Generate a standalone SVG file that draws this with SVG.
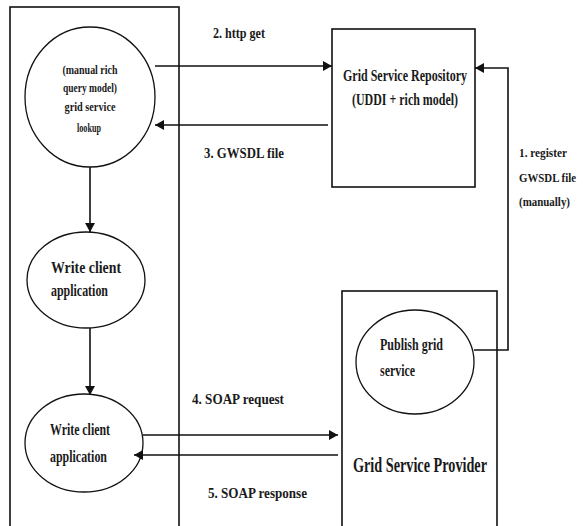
<svg xmlns="http://www.w3.org/2000/svg" width="588" height="526" viewBox="0 0 588 526">
<style>
.box{fill:none;stroke:#111;stroke-width:1.6}
.node{fill:#fff;stroke:#111;stroke-width:1.3}
.edge{fill:none;stroke:#111;stroke-width:1.6}
text{font-family:"Liberation Serif","Times New Roman",serif;font-weight:bold;fill:#1a1a1a}
.s{font-size:13px}
.m{font-size:15px}
.r{font-size:13px}
.n{font-size:17px}
.l{font-size:16px}
.xl{font-size:22px}
</style>
<defs>
<marker id="ah" markerWidth="10" markerHeight="10" refX="9" refY="5" orient="auto" markerUnits="userSpaceOnUse">
<path d="M0,0 L9,5 L0,10 Z" fill="#111"/>
</marker>
</defs>
<rect width="588" height="526" fill="#fff"/>
<g id="client-area"><rect class="box" x="10" y="7" width="169" height="530"/></g>
<g id="repository">
<rect class="box" x="332" y="29" width="143" height="158"/>
<text class="l" x="405" y="81" text-anchor="middle" textLength="124" lengthAdjust="spacingAndGlyphs">Grid Service Repository</text>
<text class="l" x="405" y="105" text-anchor="middle" textLength="106" lengthAdjust="spacingAndGlyphs">(UDDI + rich model)</text>
</g>
<g id="provider">
<rect class="box" x="342" y="291" width="155" height="250"/>
<text class="xl" x="420" y="472" text-anchor="middle" textLength="134" lengthAdjust="spacingAndGlyphs">Grid Service Provider</text>
</g>
<g id="lookup">
<ellipse class="node" cx="90" cy="97" rx="65" ry="70"/>
<text class="s" x="90" y="74" text-anchor="middle" textLength="55" lengthAdjust="spacingAndGlyphs">(manual rich</text>
<text class="s" x="90" y="92" text-anchor="middle" textLength="54" lengthAdjust="spacingAndGlyphs">query model)</text>
<text class="s" x="90" y="111" text-anchor="middle" textLength="51" lengthAdjust="spacingAndGlyphs">grid service</text>
<text class="s" x="89" y="132" text-anchor="middle" textLength="24" lengthAdjust="spacingAndGlyphs">lookup</text>
</g>
<g id="write1">
<ellipse class="node" cx="86" cy="280" rx="59" ry="48"/>
<text class="n" x="51" y="273" textLength="70" lengthAdjust="spacingAndGlyphs">Write client</text>
<text class="n" x="51" y="296" textLength="57" lengthAdjust="spacingAndGlyphs">application</text>
</g>
<g id="write2">
<ellipse class="node" cx="84" cy="443" rx="59" ry="49"/>
<text class="n" x="50" y="435" textLength="60" lengthAdjust="spacingAndGlyphs">Write client</text>
<text class="n" x="50" y="462" textLength="57" lengthAdjust="spacingAndGlyphs">application</text>
</g>
<g id="publish">
<ellipse class="node" cx="415" cy="362" rx="59" ry="52"/>
<text class="n" x="380" y="350" textLength="63" lengthAdjust="spacingAndGlyphs">Publish grid</text>
<text class="n" x="380" y="376" textLength="35" lengthAdjust="spacingAndGlyphs">service</text>
</g>
<g id="connectors">
<line class="edge" x1="155" y1="66" x2="332" y2="66" marker-end="url(#ah)"/>
<line class="edge" x1="328" y1="125" x2="155" y2="125" marker-end="url(#ah)"/>
<polyline class="edge" points="474,350 508,350 508,68 475,68" marker-end="url(#ah)"/>
<line class="edge" x1="90" y1="167" x2="90" y2="232" marker-end="url(#ah)"/>
<line class="edge" x1="90" y1="328" x2="90" y2="395" marker-end="url(#ah)"/>
<line class="edge" x1="143" y1="435" x2="338" y2="435" marker-end="url(#ah)"/>
<line class="edge" x1="338" y1="455" x2="134" y2="455" marker-end="url(#ah)"/>
<text class="m" x="213" y="38" textLength="52" lengthAdjust="spacingAndGlyphs">2. http get</text>
<text class="m" x="204" y="158" textLength="80" lengthAdjust="spacingAndGlyphs">3. GWSDL  file</text>
<text class="r" x="519" y="157" textLength="48" lengthAdjust="spacingAndGlyphs">1. register</text>
<text class="r" x="519" y="182" textLength="57" lengthAdjust="spacingAndGlyphs">GWSDL file</text>
<text class="r" x="519" y="206" textLength="51" lengthAdjust="spacingAndGlyphs">(manually)</text>
<text class="m" x="192" y="404" textLength="92" lengthAdjust="spacingAndGlyphs">4. SOAP  request</text>
<text class="m" x="208" y="498" textLength="99" lengthAdjust="spacingAndGlyphs">5. SOAP  response</text>
</g>
</svg>
